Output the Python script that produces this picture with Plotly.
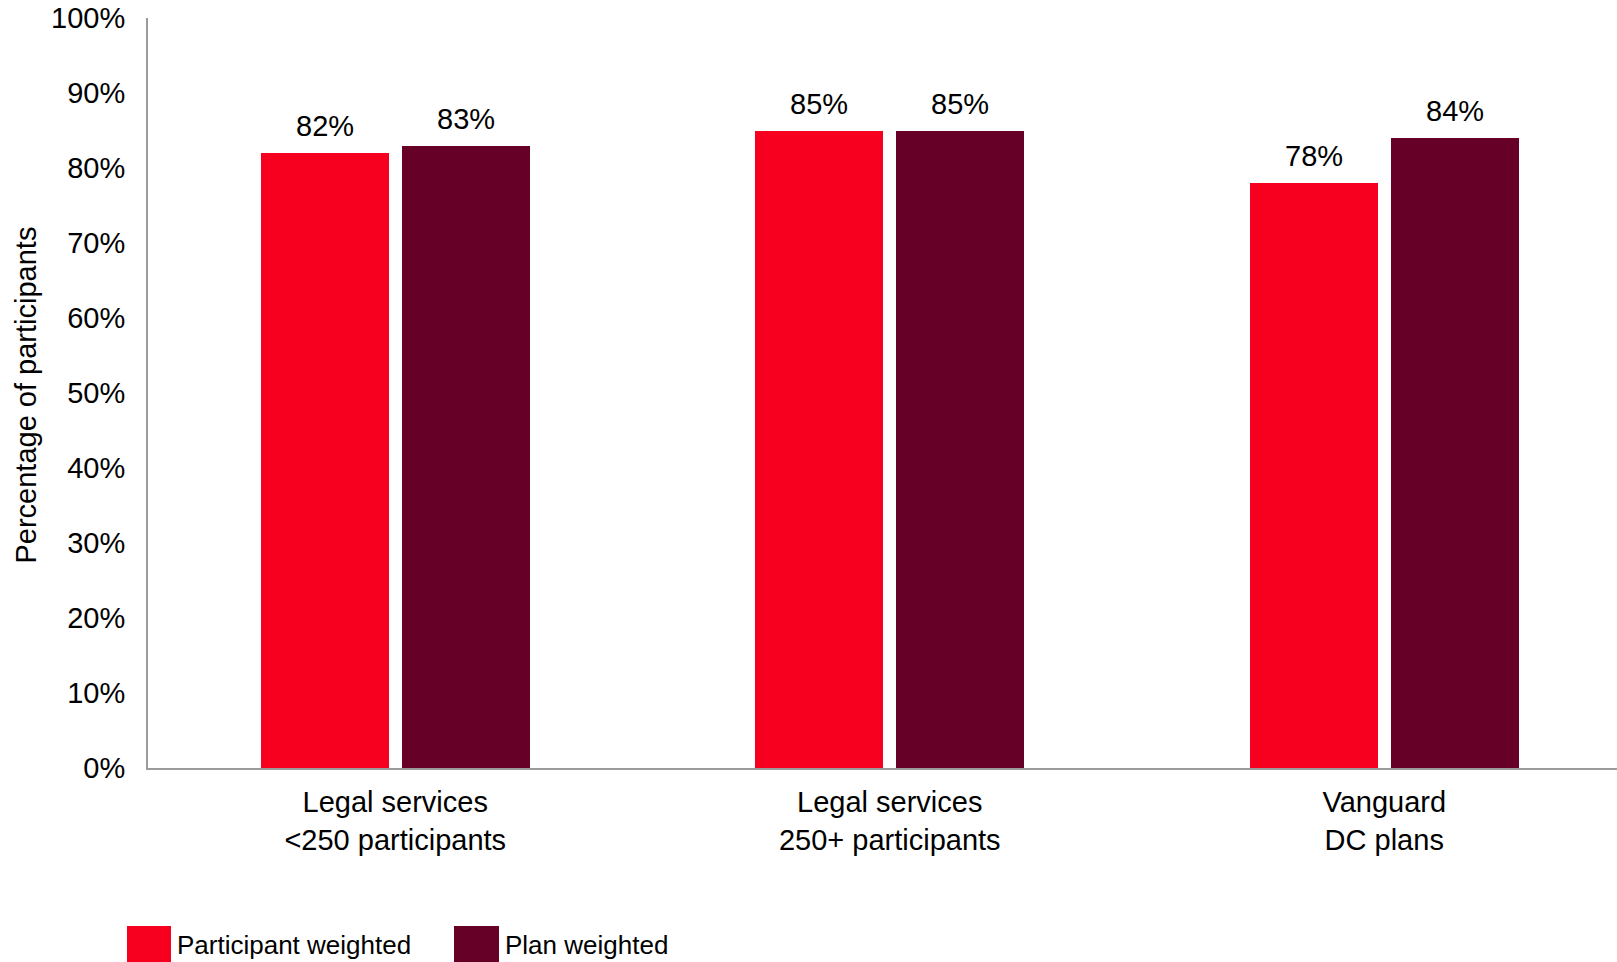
import plotly.graph_objects as go

# Share of participants, by plan group
categories = ["Legal services<br><250 participants",
              "Legal services<br>250+ participants",
              "Vanguard<br>DC plans"]
participant_weighted = [82, 85, 78]
plan_weighted = [83, 85, 84]
y_ticks = [0, 10, 20, 30, 40, 50, 60, 70, 80, 90, 100]

RED = "#F7001F"
MAROON = "#670026"
AXIS = "#9B9B9B"
FONT = "Liberation Sans, Arial, sans-serif"
FS = 29

BAR_W = 0.259
GAP = 0.0128
x_idx = list(range(len(categories)))

fig = go.Figure()
series = [
    ("Participant weighted", participant_weighted, RED, -(BAR_W + GAP)),
    ("Plan weighted", plan_weighted, MAROON, GAP),
]
for name, vals, color, off in series:
    fig.add_trace(go.Bar(
        name=name, x=x_idx, y=vals, width=BAR_W, offset=off,
        marker=dict(color=color, line=dict(width=0)),
        showlegend=False, hoverinfo="skip",
    ))
    # value labels above each bar
    for i, v in zip(x_idx, vals):
        fig.add_annotation(
            x=i + off + BAR_W / 2, y=v, xref="x", yref="y",
            text=f"{v}%", showarrow=False, yanchor="middle", yshift=27,
            font=dict(family=FONT, size=FS, color="#000000"),
        )

# axis title
fig.add_annotation(
    text="Percentage of participants", textangle=-90, showarrow=False,
    xref="paper", yref="paper", x=-0.083, y=0.4967,
    xanchor="center", yanchor="middle",
    font=dict(family=FONT, size=FS, color="#000000"),
)

# legend drawn as swatches + labels along the bottom
legend_items = [("Participant weighted", RED, 127, 171),
                ("Plan weighted", MAROON, 454, 499)]
W, H = 1617, 962
L, R, T, B = 148, 0, 18, 194
pw, ph = W - L - R, H - T - B
for label, color, x0, x1 in legend_items:
    fig.add_shape(
        type="rect", xref="paper", yref="paper",
        x0=(x0 - L) / pw, x1=(x1 - L) / pw,
        y0=(H - B - 966) / ph, y1=(H - B - 926) / ph,
        fillcolor=color, line=dict(width=0), layer="above",
    )
    fig.add_annotation(
        text=label, showarrow=False, xref="paper", yref="paper",
        x=(x1 + 4 - L) / pw, y=(H - B - 945) / ph,
        xanchor="left", yanchor="middle",
        font=dict(family=FONT, size=26, color="#000000"),
    )

fig.update_layout(
    width=W, height=H, autosize=False,
    margin=dict(l=L, r=R, t=T, b=B, pad=0),
    plot_bgcolor="#FFFFFF", paper_bgcolor="#FFFFFF",
    font=dict(family=FONT, size=FS, color="#000000"),
    bargap=0, showlegend=False,
)
fig.update_xaxes(
    range=[-0.5, -0.5 + pw / 494.5],
    tickvals=x_idx, ticktext=categories,
    showline=True, linecolor=AXIS, linewidth=2,
    showgrid=False, zeroline=False, ticks="",
    tickfont=dict(family=FONT, size=FS, color="#000000"),
    ticklabelstandoff=7,
)
fig.update_yaxes(
    range=[0, 100], tickvals=y_ticks,
    ticktext=[f"{t}%" for t in y_ticks],
    showline=True, linecolor=AXIS, linewidth=2,
    showgrid=False, zeroline=False, ticks="",
    tickfont=dict(family=FONT, size=FS, color="#000000"),
    ticklabelstandoff=15,
)

fig.write_html("out.html")
